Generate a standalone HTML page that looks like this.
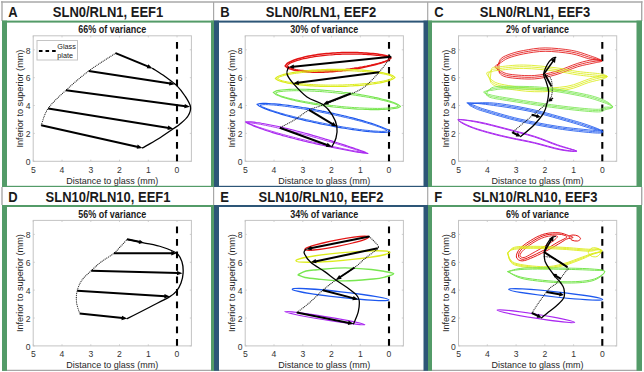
<!DOCTYPE html>
<html><head><meta charset="utf-8"><style>
html,body{margin:0;padding:0;background:#fff;width:644px;height:372px;overflow:hidden}
svg{display:block}
text{font-family:"Liberation Sans",sans-serif;fill:#1a1a1a}
.hl{font-size:13px;font-weight:bold}
.ht{font-size:13px;font-weight:bold;text-anchor:middle}
.st{font-size:9px;font-weight:bold;text-anchor:middle}
.tk{font-size:8.6px;text-anchor:middle;fill:#333}
.al{font-size:9px;text-anchor:middle;fill:#262626}
.lg{font-size:7.25px;fill:#222}
</style></head><body>
<svg width="644" height="372" viewBox="0 0 644 372">
<rect width="644" height="372" fill="#fff"/>
<line x1="1" y1="2" x2="642.5" y2="2" stroke="#a8a8a8" stroke-width="1.4"/>
<line x1="2" y1="1.3" x2="2" y2="21" stroke="#a8a8a8" stroke-width="1.4"/>
<line x1="641.7" y1="1.3" x2="641.7" y2="21" stroke="#a8a8a8" stroke-width="1.4"/>
<line x1="2" y1="187" x2="2" y2="205" stroke="#a8a8a8" stroke-width="1.4"/>
<line x1="641.7" y1="187" x2="641.7" y2="205" stroke="#a8a8a8" stroke-width="1.4"/>
<line x1="2" y1="370.4" x2="642" y2="370.4" stroke="#a8a8a8" stroke-width="1.2"/>
<line x1="213.6" y1="2" x2="213.6" y2="21" stroke="#a8a8a8" stroke-width="1.2"/>
<line x1="213.6" y1="187" x2="213.6" y2="205" stroke="#a8a8a8" stroke-width="1.2"/>
<line x1="427.7" y1="2" x2="427.7" y2="21" stroke="#a8a8a8" stroke-width="1.2"/>
<line x1="427.7" y1="187" x2="427.7" y2="205" stroke="#a8a8a8" stroke-width="1.2"/>
<rect x="2" y="20.6" width="212" height="2" fill="#539b68"/>
<rect x="2" y="185.8" width="212" height="1.2" fill="#539b68"/>
<rect x="2" y="20.6" width="5" height="166.4" fill="#539b68"/>
<rect x="211" y="20.6" width="3" height="166.4" fill="#539b68"/>
<rect x="214" y="20.6" width="214" height="2" fill="#2d5677"/>
<rect x="214" y="185.8" width="214" height="1.2" fill="#2d5677"/>
<rect x="214" y="20.6" width="5" height="166.4" fill="#2d5677"/>
<rect x="423.5" y="20.6" width="4.5" height="166.4" fill="#2d5677"/>
<rect x="428" y="20.6" width="214" height="2" fill="#539b68"/>
<rect x="428" y="185.8" width="214" height="1.2" fill="#539b68"/>
<rect x="428" y="20.6" width="4" height="166.4" fill="#539b68"/>
<rect x="636.5" y="20.6" width="5.5" height="166.4" fill="#539b68"/>
<rect x="2" y="205" width="212" height="2" fill="#539b68"/>
<rect x="2" y="205" width="5" height="165.8" fill="#539b68"/>
<rect x="211" y="205" width="3" height="165.8" fill="#539b68"/>
<rect x="214" y="205" width="214" height="2" fill="#2d5677"/>
<rect x="214" y="205" width="5" height="165.8" fill="#2d5677"/>
<rect x="423.5" y="205" width="4.5" height="165.8" fill="#2d5677"/>
<rect x="428" y="205" width="214" height="2" fill="#539b68"/>
<rect x="428" y="205" width="4" height="165.8" fill="#539b68"/>
<rect x="636.5" y="205" width="5.5" height="165.8" fill="#539b68"/>
<text transform="translate(8.3,16.6) scale(1,1.1)" class="hl">A</text>
<text transform="translate(108.0,16.6) scale(1,1.1)" class="ht">SLN0/RLN1, EEF1</text>
<text transform="translate(220.3,16.6) scale(1,1.1)" class="hl">B</text>
<text transform="translate(321.0,16.6) scale(1,1.1)" class="ht">SLN0/RLN1, EEF2</text>
<text transform="translate(434.3,16.6) scale(1,1.1)" class="hl">C</text>
<text transform="translate(535.0,16.6) scale(1,1.1)" class="ht">SLN0/RLN1, EEF3</text>
<text transform="translate(8.3,201.9) scale(1,1.1)" class="hl">D</text>
<text transform="translate(108.0,201.9) scale(1,1.1)" class="ht">SLN10/RLN10, EEF1</text>
<text transform="translate(220.3,201.9) scale(1,1.1)" class="hl">E</text>
<text transform="translate(321.0,201.9) scale(1,1.1)" class="ht">SLN10/RLN10, EEF2</text>
<text transform="translate(434.3,201.9) scale(1,1.1)" class="hl">F</text>
<text transform="translate(535.0,201.9) scale(1,1.1)" class="ht">SLN10/RLN10, EEF3</text>
<text transform="translate(112.3,33.2) scale(1,1.12)" class="st">66% of variance</text>
<rect x="33.2" y="35.8" width="158.2" height="125.50000000000001" fill="none" stroke="#c4c4c4" stroke-width="1"/>
<line x1="177.0" y1="161.3" x2="177.0" y2="159.70000000000002" stroke="#c4c4c4" stroke-width=".8"/>
<line x1="177.0" y1="35.8" x2="177.0" y2="37.4" stroke="#c4c4c4" stroke-width=".8"/>
<text x="177.0" y="172.5" class="tk">0</text>
<line x1="148.3" y1="161.3" x2="148.3" y2="159.70000000000002" stroke="#c4c4c4" stroke-width=".8"/>
<line x1="148.3" y1="35.8" x2="148.3" y2="37.4" stroke="#c4c4c4" stroke-width=".8"/>
<text x="148.3" y="172.5" class="tk">1</text>
<line x1="119.5" y1="161.3" x2="119.5" y2="159.70000000000002" stroke="#c4c4c4" stroke-width=".8"/>
<line x1="119.5" y1="35.8" x2="119.5" y2="37.4" stroke="#c4c4c4" stroke-width=".8"/>
<text x="119.5" y="172.5" class="tk">2</text>
<line x1="90.8" y1="161.3" x2="90.8" y2="159.70000000000002" stroke="#c4c4c4" stroke-width=".8"/>
<line x1="90.8" y1="35.8" x2="90.8" y2="37.4" stroke="#c4c4c4" stroke-width=".8"/>
<text x="90.8" y="172.5" class="tk">3</text>
<line x1="62.0" y1="161.3" x2="62.0" y2="159.70000000000002" stroke="#c4c4c4" stroke-width=".8"/>
<line x1="62.0" y1="35.8" x2="62.0" y2="37.4" stroke="#c4c4c4" stroke-width=".8"/>
<text x="62.0" y="172.5" class="tk">4</text>
<line x1="33.3" y1="161.3" x2="33.3" y2="159.70000000000002" stroke="#c4c4c4" stroke-width=".8"/>
<line x1="33.3" y1="35.8" x2="33.3" y2="37.4" stroke="#c4c4c4" stroke-width=".8"/>
<text x="33.3" y="172.5" class="tk">5</text>
<line x1="33.2" y1="161.3" x2="34.800000000000004" y2="161.3" stroke="#c4c4c4" stroke-width=".8"/>
<line x1="191.4" y1="161.3" x2="189.8" y2="161.3" stroke="#c4c4c4" stroke-width=".8"/>
<text x="28.2" y="165.0" class="tk">0</text>
<line x1="33.2" y1="133.4" x2="34.800000000000004" y2="133.4" stroke="#c4c4c4" stroke-width=".8"/>
<line x1="191.4" y1="133.4" x2="189.8" y2="133.4" stroke="#c4c4c4" stroke-width=".8"/>
<text x="28.2" y="137.1" class="tk">2</text>
<line x1="33.2" y1="105.5" x2="34.800000000000004" y2="105.5" stroke="#c4c4c4" stroke-width=".8"/>
<line x1="191.4" y1="105.5" x2="189.8" y2="105.5" stroke="#c4c4c4" stroke-width=".8"/>
<text x="28.2" y="109.2" class="tk">4</text>
<line x1="33.2" y1="77.7" x2="34.800000000000004" y2="77.7" stroke="#c4c4c4" stroke-width=".8"/>
<line x1="191.4" y1="77.7" x2="189.8" y2="77.7" stroke="#c4c4c4" stroke-width=".8"/>
<text x="28.2" y="81.4" class="tk">6</text>
<line x1="33.2" y1="49.8" x2="34.800000000000004" y2="49.8" stroke="#c4c4c4" stroke-width=".8"/>
<line x1="191.4" y1="49.8" x2="189.8" y2="49.8" stroke="#c4c4c4" stroke-width=".8"/>
<text x="28.2" y="53.5" class="tk">8</text>
<text transform="translate(112.3,183.6) scale(1,1.09)" class="al">Distance to glass (mm)</text>
<text transform="translate(23.2,98.55000000000001) rotate(-90)" x="0" y="0" class="al" style="font-size:9.15px">Inferior to superior (mm)</text>
<line x1="177.0" y1="41.9" x2="177.0" y2="161.3" stroke="#000" stroke-width="2.1" stroke-dasharray="6.8 5.7"/>
<text transform="translate(324.3,33.2) scale(1,1.12)" class="st">30% of variance</text>
<rect x="245.2" y="35.8" width="158.2" height="125.50000000000001" fill="none" stroke="#c4c4c4" stroke-width="1"/>
<line x1="389.0" y1="161.3" x2="389.0" y2="159.70000000000002" stroke="#c4c4c4" stroke-width=".8"/>
<line x1="389.0" y1="35.8" x2="389.0" y2="37.4" stroke="#c4c4c4" stroke-width=".8"/>
<text x="389.0" y="172.5" class="tk">0</text>
<line x1="360.3" y1="161.3" x2="360.3" y2="159.70000000000002" stroke="#c4c4c4" stroke-width=".8"/>
<line x1="360.3" y1="35.8" x2="360.3" y2="37.4" stroke="#c4c4c4" stroke-width=".8"/>
<text x="360.3" y="172.5" class="tk">1</text>
<line x1="331.5" y1="161.3" x2="331.5" y2="159.70000000000002" stroke="#c4c4c4" stroke-width=".8"/>
<line x1="331.5" y1="35.8" x2="331.5" y2="37.4" stroke="#c4c4c4" stroke-width=".8"/>
<text x="331.5" y="172.5" class="tk">2</text>
<line x1="302.8" y1="161.3" x2="302.8" y2="159.70000000000002" stroke="#c4c4c4" stroke-width=".8"/>
<line x1="302.8" y1="35.8" x2="302.8" y2="37.4" stroke="#c4c4c4" stroke-width=".8"/>
<text x="302.8" y="172.5" class="tk">3</text>
<line x1="274.0" y1="161.3" x2="274.0" y2="159.70000000000002" stroke="#c4c4c4" stroke-width=".8"/>
<line x1="274.0" y1="35.8" x2="274.0" y2="37.4" stroke="#c4c4c4" stroke-width=".8"/>
<text x="274.0" y="172.5" class="tk">4</text>
<line x1="245.3" y1="161.3" x2="245.3" y2="159.70000000000002" stroke="#c4c4c4" stroke-width=".8"/>
<line x1="245.3" y1="35.8" x2="245.3" y2="37.4" stroke="#c4c4c4" stroke-width=".8"/>
<text x="245.3" y="172.5" class="tk">5</text>
<line x1="245.2" y1="161.3" x2="246.79999999999998" y2="161.3" stroke="#c4c4c4" stroke-width=".8"/>
<line x1="403.4" y1="161.3" x2="401.79999999999995" y2="161.3" stroke="#c4c4c4" stroke-width=".8"/>
<text x="240.2" y="165.0" class="tk">0</text>
<line x1="245.2" y1="133.4" x2="246.79999999999998" y2="133.4" stroke="#c4c4c4" stroke-width=".8"/>
<line x1="403.4" y1="133.4" x2="401.79999999999995" y2="133.4" stroke="#c4c4c4" stroke-width=".8"/>
<text x="240.2" y="137.1" class="tk">2</text>
<line x1="245.2" y1="105.5" x2="246.79999999999998" y2="105.5" stroke="#c4c4c4" stroke-width=".8"/>
<line x1="403.4" y1="105.5" x2="401.79999999999995" y2="105.5" stroke="#c4c4c4" stroke-width=".8"/>
<text x="240.2" y="109.2" class="tk">4</text>
<line x1="245.2" y1="77.7" x2="246.79999999999998" y2="77.7" stroke="#c4c4c4" stroke-width=".8"/>
<line x1="403.4" y1="77.7" x2="401.79999999999995" y2="77.7" stroke="#c4c4c4" stroke-width=".8"/>
<text x="240.2" y="81.4" class="tk">6</text>
<line x1="245.2" y1="49.8" x2="246.79999999999998" y2="49.8" stroke="#c4c4c4" stroke-width=".8"/>
<line x1="403.4" y1="49.8" x2="401.79999999999995" y2="49.8" stroke="#c4c4c4" stroke-width=".8"/>
<text x="240.2" y="53.5" class="tk">8</text>
<text transform="translate(324.3,183.6) scale(1,1.09)" class="al">Distance to glass (mm)</text>
<text transform="translate(235.2,98.55000000000001) rotate(-90)" x="0" y="0" class="al" style="font-size:9.15px">Inferior to superior (mm)</text>
<line x1="389.0" y1="41.9" x2="389.0" y2="161.3" stroke="#000" stroke-width="2.1" stroke-dasharray="6.8 5.7"/>
<text transform="translate(537.6,33.2) scale(1,1.12)" class="st">2% of variance</text>
<rect x="458.5" y="35.8" width="158.20000000000005" height="125.50000000000001" fill="none" stroke="#c4c4c4" stroke-width="1"/>
<line x1="602.3" y1="161.3" x2="602.3" y2="159.70000000000002" stroke="#c4c4c4" stroke-width=".8"/>
<line x1="602.3" y1="35.8" x2="602.3" y2="37.4" stroke="#c4c4c4" stroke-width=".8"/>
<text x="602.3" y="172.5" class="tk">0</text>
<line x1="573.6" y1="161.3" x2="573.6" y2="159.70000000000002" stroke="#c4c4c4" stroke-width=".8"/>
<line x1="573.6" y1="35.8" x2="573.6" y2="37.4" stroke="#c4c4c4" stroke-width=".8"/>
<text x="573.6" y="172.5" class="tk">1</text>
<line x1="544.8" y1="161.3" x2="544.8" y2="159.70000000000002" stroke="#c4c4c4" stroke-width=".8"/>
<line x1="544.8" y1="35.8" x2="544.8" y2="37.4" stroke="#c4c4c4" stroke-width=".8"/>
<text x="544.8" y="172.5" class="tk">2</text>
<line x1="516.1" y1="161.3" x2="516.1" y2="159.70000000000002" stroke="#c4c4c4" stroke-width=".8"/>
<line x1="516.1" y1="35.8" x2="516.1" y2="37.4" stroke="#c4c4c4" stroke-width=".8"/>
<text x="516.1" y="172.5" class="tk">3</text>
<line x1="487.3" y1="161.3" x2="487.3" y2="159.70000000000002" stroke="#c4c4c4" stroke-width=".8"/>
<line x1="487.3" y1="35.8" x2="487.3" y2="37.4" stroke="#c4c4c4" stroke-width=".8"/>
<text x="487.3" y="172.5" class="tk">4</text>
<line x1="458.6" y1="161.3" x2="458.6" y2="159.70000000000002" stroke="#c4c4c4" stroke-width=".8"/>
<line x1="458.6" y1="35.8" x2="458.6" y2="37.4" stroke="#c4c4c4" stroke-width=".8"/>
<text x="458.6" y="172.5" class="tk">5</text>
<line x1="458.5" y1="161.3" x2="460.1" y2="161.3" stroke="#c4c4c4" stroke-width=".8"/>
<line x1="616.7" y1="161.3" x2="615.1" y2="161.3" stroke="#c4c4c4" stroke-width=".8"/>
<text x="453.5" y="165.0" class="tk">0</text>
<line x1="458.5" y1="133.4" x2="460.1" y2="133.4" stroke="#c4c4c4" stroke-width=".8"/>
<line x1="616.7" y1="133.4" x2="615.1" y2="133.4" stroke="#c4c4c4" stroke-width=".8"/>
<text x="453.5" y="137.1" class="tk">2</text>
<line x1="458.5" y1="105.5" x2="460.1" y2="105.5" stroke="#c4c4c4" stroke-width=".8"/>
<line x1="616.7" y1="105.5" x2="615.1" y2="105.5" stroke="#c4c4c4" stroke-width=".8"/>
<text x="453.5" y="109.2" class="tk">4</text>
<line x1="458.5" y1="77.7" x2="460.1" y2="77.7" stroke="#c4c4c4" stroke-width=".8"/>
<line x1="616.7" y1="77.7" x2="615.1" y2="77.7" stroke="#c4c4c4" stroke-width=".8"/>
<text x="453.5" y="81.4" class="tk">6</text>
<line x1="458.5" y1="49.8" x2="460.1" y2="49.8" stroke="#c4c4c4" stroke-width=".8"/>
<line x1="616.7" y1="49.8" x2="615.1" y2="49.8" stroke="#c4c4c4" stroke-width=".8"/>
<text x="453.5" y="53.5" class="tk">8</text>
<text transform="translate(537.6,183.6) scale(1,1.09)" class="al">Distance to glass (mm)</text>
<text transform="translate(448.5,98.55000000000001) rotate(-90)" x="0" y="0" class="al" style="font-size:9.15px">Inferior to superior (mm)</text>
<line x1="602.3" y1="41.9" x2="602.3" y2="161.3" stroke="#000" stroke-width="2.1" stroke-dasharray="6.8 5.7"/>
<text transform="translate(112.3,217.8) scale(1,1.12)" class="st">56% of variance</text>
<rect x="33.2" y="220.39999999999998" width="158.2" height="125.5" fill="none" stroke="#c4c4c4" stroke-width="1"/>
<line x1="177.0" y1="345.9" x2="177.0" y2="344.29999999999995" stroke="#c4c4c4" stroke-width=".8"/>
<line x1="177.0" y1="220.39999999999998" x2="177.0" y2="221.99999999999997" stroke="#c4c4c4" stroke-width=".8"/>
<text x="177.0" y="357.1" class="tk">0</text>
<line x1="148.3" y1="345.9" x2="148.3" y2="344.29999999999995" stroke="#c4c4c4" stroke-width=".8"/>
<line x1="148.3" y1="220.39999999999998" x2="148.3" y2="221.99999999999997" stroke="#c4c4c4" stroke-width=".8"/>
<text x="148.3" y="357.1" class="tk">1</text>
<line x1="119.5" y1="345.9" x2="119.5" y2="344.29999999999995" stroke="#c4c4c4" stroke-width=".8"/>
<line x1="119.5" y1="220.39999999999998" x2="119.5" y2="221.99999999999997" stroke="#c4c4c4" stroke-width=".8"/>
<text x="119.5" y="357.1" class="tk">2</text>
<line x1="90.8" y1="345.9" x2="90.8" y2="344.29999999999995" stroke="#c4c4c4" stroke-width=".8"/>
<line x1="90.8" y1="220.39999999999998" x2="90.8" y2="221.99999999999997" stroke="#c4c4c4" stroke-width=".8"/>
<text x="90.8" y="357.1" class="tk">3</text>
<line x1="62.0" y1="345.9" x2="62.0" y2="344.29999999999995" stroke="#c4c4c4" stroke-width=".8"/>
<line x1="62.0" y1="220.39999999999998" x2="62.0" y2="221.99999999999997" stroke="#c4c4c4" stroke-width=".8"/>
<text x="62.0" y="357.1" class="tk">4</text>
<line x1="33.3" y1="345.9" x2="33.3" y2="344.29999999999995" stroke="#c4c4c4" stroke-width=".8"/>
<line x1="33.3" y1="220.39999999999998" x2="33.3" y2="221.99999999999997" stroke="#c4c4c4" stroke-width=".8"/>
<text x="33.3" y="357.1" class="tk">5</text>
<line x1="33.2" y1="345.9" x2="34.800000000000004" y2="345.9" stroke="#c4c4c4" stroke-width=".8"/>
<line x1="191.4" y1="345.9" x2="189.8" y2="345.9" stroke="#c4c4c4" stroke-width=".8"/>
<text x="28.2" y="349.6" class="tk">0</text>
<line x1="33.2" y1="318.0" x2="34.800000000000004" y2="318.0" stroke="#c4c4c4" stroke-width=".8"/>
<line x1="191.4" y1="318.0" x2="189.8" y2="318.0" stroke="#c4c4c4" stroke-width=".8"/>
<text x="28.2" y="321.7" class="tk">2</text>
<line x1="33.2" y1="290.1" x2="34.800000000000004" y2="290.1" stroke="#c4c4c4" stroke-width=".8"/>
<line x1="191.4" y1="290.1" x2="189.8" y2="290.1" stroke="#c4c4c4" stroke-width=".8"/>
<text x="28.2" y="293.8" class="tk">4</text>
<line x1="33.2" y1="262.3" x2="34.800000000000004" y2="262.3" stroke="#c4c4c4" stroke-width=".8"/>
<line x1="191.4" y1="262.3" x2="189.8" y2="262.3" stroke="#c4c4c4" stroke-width=".8"/>
<text x="28.2" y="266.0" class="tk">6</text>
<line x1="33.2" y1="234.4" x2="34.800000000000004" y2="234.4" stroke="#c4c4c4" stroke-width=".8"/>
<line x1="191.4" y1="234.4" x2="189.8" y2="234.4" stroke="#c4c4c4" stroke-width=".8"/>
<text x="28.2" y="238.1" class="tk">8</text>
<text transform="translate(112.3,368.2) scale(1,1.09)" class="al">Distance to glass (mm)</text>
<text transform="translate(23.2,283.15) rotate(-90)" x="0" y="0" class="al" style="font-size:9.15px">Inferior to superior (mm)</text>
<line x1="177.0" y1="226.5" x2="177.0" y2="345.9" stroke="#000" stroke-width="2.1" stroke-dasharray="6.8 5.7"/>
<text transform="translate(324.3,217.8) scale(1,1.12)" class="st">34% of variance</text>
<rect x="245.2" y="220.39999999999998" width="158.2" height="125.5" fill="none" stroke="#c4c4c4" stroke-width="1"/>
<line x1="389.0" y1="345.9" x2="389.0" y2="344.29999999999995" stroke="#c4c4c4" stroke-width=".8"/>
<line x1="389.0" y1="220.39999999999998" x2="389.0" y2="221.99999999999997" stroke="#c4c4c4" stroke-width=".8"/>
<text x="389.0" y="357.1" class="tk">0</text>
<line x1="360.3" y1="345.9" x2="360.3" y2="344.29999999999995" stroke="#c4c4c4" stroke-width=".8"/>
<line x1="360.3" y1="220.39999999999998" x2="360.3" y2="221.99999999999997" stroke="#c4c4c4" stroke-width=".8"/>
<text x="360.3" y="357.1" class="tk">1</text>
<line x1="331.5" y1="345.9" x2="331.5" y2="344.29999999999995" stroke="#c4c4c4" stroke-width=".8"/>
<line x1="331.5" y1="220.39999999999998" x2="331.5" y2="221.99999999999997" stroke="#c4c4c4" stroke-width=".8"/>
<text x="331.5" y="357.1" class="tk">2</text>
<line x1="302.8" y1="345.9" x2="302.8" y2="344.29999999999995" stroke="#c4c4c4" stroke-width=".8"/>
<line x1="302.8" y1="220.39999999999998" x2="302.8" y2="221.99999999999997" stroke="#c4c4c4" stroke-width=".8"/>
<text x="302.8" y="357.1" class="tk">3</text>
<line x1="274.0" y1="345.9" x2="274.0" y2="344.29999999999995" stroke="#c4c4c4" stroke-width=".8"/>
<line x1="274.0" y1="220.39999999999998" x2="274.0" y2="221.99999999999997" stroke="#c4c4c4" stroke-width=".8"/>
<text x="274.0" y="357.1" class="tk">4</text>
<line x1="245.3" y1="345.9" x2="245.3" y2="344.29999999999995" stroke="#c4c4c4" stroke-width=".8"/>
<line x1="245.3" y1="220.39999999999998" x2="245.3" y2="221.99999999999997" stroke="#c4c4c4" stroke-width=".8"/>
<text x="245.3" y="357.1" class="tk">5</text>
<line x1="245.2" y1="345.9" x2="246.79999999999998" y2="345.9" stroke="#c4c4c4" stroke-width=".8"/>
<line x1="403.4" y1="345.9" x2="401.79999999999995" y2="345.9" stroke="#c4c4c4" stroke-width=".8"/>
<text x="240.2" y="349.6" class="tk">0</text>
<line x1="245.2" y1="318.0" x2="246.79999999999998" y2="318.0" stroke="#c4c4c4" stroke-width=".8"/>
<line x1="403.4" y1="318.0" x2="401.79999999999995" y2="318.0" stroke="#c4c4c4" stroke-width=".8"/>
<text x="240.2" y="321.7" class="tk">2</text>
<line x1="245.2" y1="290.1" x2="246.79999999999998" y2="290.1" stroke="#c4c4c4" stroke-width=".8"/>
<line x1="403.4" y1="290.1" x2="401.79999999999995" y2="290.1" stroke="#c4c4c4" stroke-width=".8"/>
<text x="240.2" y="293.8" class="tk">4</text>
<line x1="245.2" y1="262.3" x2="246.79999999999998" y2="262.3" stroke="#c4c4c4" stroke-width=".8"/>
<line x1="403.4" y1="262.3" x2="401.79999999999995" y2="262.3" stroke="#c4c4c4" stroke-width=".8"/>
<text x="240.2" y="266.0" class="tk">6</text>
<line x1="245.2" y1="234.4" x2="246.79999999999998" y2="234.4" stroke="#c4c4c4" stroke-width=".8"/>
<line x1="403.4" y1="234.4" x2="401.79999999999995" y2="234.4" stroke="#c4c4c4" stroke-width=".8"/>
<text x="240.2" y="238.1" class="tk">8</text>
<text transform="translate(324.3,368.2) scale(1,1.09)" class="al">Distance to glass (mm)</text>
<text transform="translate(235.2,283.15) rotate(-90)" x="0" y="0" class="al" style="font-size:9.15px">Inferior to superior (mm)</text>
<line x1="389.0" y1="226.5" x2="389.0" y2="345.9" stroke="#000" stroke-width="2.1" stroke-dasharray="6.8 5.7"/>
<text transform="translate(537.6,217.8) scale(1,1.12)" class="st">6% of variance</text>
<rect x="458.5" y="220.39999999999998" width="158.20000000000005" height="125.5" fill="none" stroke="#c4c4c4" stroke-width="1"/>
<line x1="602.3" y1="345.9" x2="602.3" y2="344.29999999999995" stroke="#c4c4c4" stroke-width=".8"/>
<line x1="602.3" y1="220.39999999999998" x2="602.3" y2="221.99999999999997" stroke="#c4c4c4" stroke-width=".8"/>
<text x="602.3" y="357.1" class="tk">0</text>
<line x1="573.6" y1="345.9" x2="573.6" y2="344.29999999999995" stroke="#c4c4c4" stroke-width=".8"/>
<line x1="573.6" y1="220.39999999999998" x2="573.6" y2="221.99999999999997" stroke="#c4c4c4" stroke-width=".8"/>
<text x="573.6" y="357.1" class="tk">1</text>
<line x1="544.8" y1="345.9" x2="544.8" y2="344.29999999999995" stroke="#c4c4c4" stroke-width=".8"/>
<line x1="544.8" y1="220.39999999999998" x2="544.8" y2="221.99999999999997" stroke="#c4c4c4" stroke-width=".8"/>
<text x="544.8" y="357.1" class="tk">2</text>
<line x1="516.1" y1="345.9" x2="516.1" y2="344.29999999999995" stroke="#c4c4c4" stroke-width=".8"/>
<line x1="516.1" y1="220.39999999999998" x2="516.1" y2="221.99999999999997" stroke="#c4c4c4" stroke-width=".8"/>
<text x="516.1" y="357.1" class="tk">3</text>
<line x1="487.3" y1="345.9" x2="487.3" y2="344.29999999999995" stroke="#c4c4c4" stroke-width=".8"/>
<line x1="487.3" y1="220.39999999999998" x2="487.3" y2="221.99999999999997" stroke="#c4c4c4" stroke-width=".8"/>
<text x="487.3" y="357.1" class="tk">4</text>
<line x1="458.6" y1="345.9" x2="458.6" y2="344.29999999999995" stroke="#c4c4c4" stroke-width=".8"/>
<line x1="458.6" y1="220.39999999999998" x2="458.6" y2="221.99999999999997" stroke="#c4c4c4" stroke-width=".8"/>
<text x="458.6" y="357.1" class="tk">5</text>
<line x1="458.5" y1="345.9" x2="460.1" y2="345.9" stroke="#c4c4c4" stroke-width=".8"/>
<line x1="616.7" y1="345.9" x2="615.1" y2="345.9" stroke="#c4c4c4" stroke-width=".8"/>
<text x="453.5" y="349.6" class="tk">0</text>
<line x1="458.5" y1="318.0" x2="460.1" y2="318.0" stroke="#c4c4c4" stroke-width=".8"/>
<line x1="616.7" y1="318.0" x2="615.1" y2="318.0" stroke="#c4c4c4" stroke-width=".8"/>
<text x="453.5" y="321.7" class="tk">2</text>
<line x1="458.5" y1="290.1" x2="460.1" y2="290.1" stroke="#c4c4c4" stroke-width=".8"/>
<line x1="616.7" y1="290.1" x2="615.1" y2="290.1" stroke="#c4c4c4" stroke-width=".8"/>
<text x="453.5" y="293.8" class="tk">4</text>
<line x1="458.5" y1="262.3" x2="460.1" y2="262.3" stroke="#c4c4c4" stroke-width=".8"/>
<line x1="616.7" y1="262.3" x2="615.1" y2="262.3" stroke="#c4c4c4" stroke-width=".8"/>
<text x="453.5" y="266.0" class="tk">6</text>
<line x1="458.5" y1="234.4" x2="460.1" y2="234.4" stroke="#c4c4c4" stroke-width=".8"/>
<line x1="616.7" y1="234.4" x2="615.1" y2="234.4" stroke="#c4c4c4" stroke-width=".8"/>
<text x="453.5" y="238.1" class="tk">8</text>
<text transform="translate(537.6,368.2) scale(1,1.09)" class="al">Distance to glass (mm)</text>
<text transform="translate(448.5,283.15) rotate(-90)" x="0" y="0" class="al" style="font-size:9.15px">Inferior to superior (mm)</text>
<line x1="602.3" y1="226.5" x2="602.3" y2="345.9" stroke="#000" stroke-width="2.1" stroke-dasharray="6.8 5.7"/>
<rect x="37" y="40.5" width="40.5" height="19.5" fill="#fff" stroke="#c4c4c4" stroke-width="1"/>
<line x1="38.9" y1="50.9" x2="55.8" y2="50.9" stroke="#000" stroke-width="2" stroke-dasharray="3.6 3"/>
<text transform="translate(57.3,48.6) scale(1,1.1)" class="lg">Glass</text>
<text transform="translate(57.3,58.2) scale(1,1.1)" class="lg">plate</text>
<path d="M115.6,53.2 C111.1,56.2 97.0,64.8 88.7,71.0 C80.4,77.2 72.8,84.0 66.0,90.2 C59.2,96.4 52.3,102.6 48.2,108.4 C44.1,114.2 42.4,122.4 41.2,125.2" fill="none" stroke="#222" stroke-width="1.15" stroke-dasharray="0.05 1.8" stroke-linecap="round"/>
<path d="M152.6,68.4 C154.7,69.8 161.0,73.6 165.0,76.5 C169.0,79.4 173.5,82.3 176.8,85.6 C180.1,88.8 182.7,92.5 185.0,96.0 C187.3,99.5 190.0,103.5 190.5,106.8 C191.0,110.1 189.8,113.1 188.0,116.0 C186.2,118.9 182.4,121.9 180.0,124.0 C177.6,126.1 177.0,126.2 173.3,128.7 C169.6,131.2 163.1,135.8 158.0,139.0 C152.9,142.2 145.1,146.4 142.5,147.9" fill="none" stroke="#000" stroke-width="1.3" stroke-linecap="round"/>
<line x1="115.6" y1="53.2" x2="148.4" y2="66.7" stroke="#000" stroke-width="2.0"/>
<path d="M152.6,68.4 L146.7,68.3 L148.3,64.3 Z" fill="#000"/>
<line x1="88.7" y1="71.0" x2="170.4" y2="83.6" stroke="#000" stroke-width="2.0"/>
<path d="M174.8,84.3 L169.0,85.6 L169.7,81.3 Z" fill="#000"/>
<line x1="66.0" y1="90.2" x2="185.5" y2="106.2" stroke="#000" stroke-width="2.0"/>
<path d="M190.0,106.8 L184.3,108.3 L184.8,103.9 Z" fill="#000"/>
<line x1="48.2" y1="108.4" x2="168.9" y2="128.0" stroke="#000" stroke-width="2.0"/>
<path d="M173.3,128.7 L167.5,130.0 L168.2,125.6 Z" fill="#000"/>
<line x1="41.2" y1="125.2" x2="138.1" y2="146.9" stroke="#000" stroke-width="2.0"/>
<path d="M142.5,147.9 L136.7,148.8 L137.6,144.6 Z" fill="#000"/>
<path d="M285.1,65.9 L287.5,68.0 L289.8,68.9 L292.0,69.6 L294.3,70.2 L296.6,70.6 L298.8,71.0 L301.0,71.3 L303.3,71.6 L305.5,71.8 L307.8,72.0 L310.0,72.1 L312.2,72.2 L314.4,72.2 L316.7,72.3 L318.9,72.3 L321.1,72.2 L323.3,72.2 L325.5,72.1 L327.7,72.0 L330.0,71.8 L332.2,71.7 L334.4,71.5 L336.6,71.3 L338.8,71.1 L341.0,70.9 L343.2,70.6 L345.4,70.4 L347.6,70.1 L349.8,69.8 L352.0,69.4 L354.2,69.1 L356.4,68.7 L358.6,68.4 L360.8,67.9 L362.9,67.5 L365.1,67.1 L367.3,66.6 L369.5,66.1 L371.7,65.6 L373.9,65.1 L376.0,64.5 L378.2,63.9 L380.4,63.2 L382.6,62.5 L384.7,61.7 L386.9,60.9 L389.0,59.8 L391.1,58.0 L388.8,56.5 L386.5,55.8 L384.2,55.3 L382.0,54.8 L379.7,54.4 L377.5,54.1 L375.2,53.8 L373.0,53.6 L370.8,53.4 L368.5,53.2 L366.3,53.0 L364.1,52.9 L361.8,52.8 L359.6,52.7 L357.4,52.6 L355.2,52.5 L352.9,52.5 L350.7,52.5 L348.5,52.5 L346.3,52.5 L344.1,52.5 L341.8,52.6 L339.6,52.7 L337.4,52.8 L335.2,52.9 L333.0,53.0 L330.8,53.2 L328.6,53.4 L326.4,53.6 L324.2,53.8 L322.0,54.0 L319.8,54.3 L317.6,54.6 L315.4,54.9 L313.2,55.3 L311.0,55.7 L308.8,56.1 L306.6,56.5 L304.4,57.0 L302.2,57.6 L300.1,58.2 L297.9,58.8 L295.7,59.5 L293.6,60.3 L291.4,61.2 L289.3,62.2 L287.1,63.5Z" fill="none" stroke="#e31414" stroke-width="1.5" stroke-linejoin="round"/>
<path d="M287.0,65.9 L289.3,67.6 L291.5,68.4 L293.7,69.0 L295.9,69.5 L298.1,69.9 L300.2,70.2 L302.4,70.4 L304.6,70.6 L306.8,70.8 L308.9,70.9 L311.1,71.0 L313.3,71.0 L315.4,71.1 L317.6,71.1 L319.7,71.1 L321.9,71.0 L324.0,71.0 L326.2,70.9 L328.3,70.8 L330.5,70.7 L332.6,70.5 L334.8,70.4 L336.9,70.2 L339.1,70.0 L341.2,69.8 L343.3,69.5 L345.5,69.3 L347.6,69.0 L349.8,68.8 L351.9,68.5 L354.0,68.2 L356.2,67.8 L358.3,67.5 L360.4,67.1 L362.6,66.8 L364.7,66.4 L366.8,66.0 L368.9,65.5 L371.1,65.1 L373.2,64.6 L375.3,64.1 L377.4,63.6 L379.5,63.0 L381.7,62.4 L383.8,61.7 L385.9,61.0 L388.0,60.1 L390.0,58.5 L387.8,57.2 L385.6,56.7 L383.4,56.2 L381.2,55.9 L379.0,55.5 L376.8,55.3 L374.7,55.1 L372.5,54.9 L370.3,54.7 L368.1,54.6 L366.0,54.4 L363.8,54.3 L361.7,54.2 L359.5,54.2 L357.3,54.1 L355.2,54.1 L353.0,54.1 L350.9,54.1 L348.7,54.1 L346.5,54.1 L344.4,54.2 L342.2,54.2 L340.1,54.3 L337.9,54.4 L335.8,54.5 L333.6,54.7 L331.5,54.8 L329.4,55.0 L327.2,55.2 L325.1,55.4 L322.9,55.6 L320.8,55.8 L318.7,56.1 L316.5,56.4 L314.4,56.7 L312.2,57.1 L310.1,57.4 L308.0,57.8 L305.9,58.3 L303.7,58.7 L301.6,59.2 L299.5,59.8 L297.4,60.4 L295.3,61.1 L293.2,61.9 L291.1,62.8 L289.0,63.9Z" fill="none" stroke="#e31414" stroke-width="1.2" stroke-linejoin="round"/>
<path d="M275.3,78.4 L277.8,80.3 L280.3,81.2 L282.8,81.9 L285.3,82.5 L287.8,83.1 L290.3,83.5 L292.8,83.9 L295.3,84.3 L297.8,84.6 L300.3,84.9 L302.8,85.2 L305.3,85.4 L307.8,85.6 L310.3,85.8 L312.8,85.9 L315.3,86.1 L317.8,86.2 L320.3,86.3 L322.8,86.4 L325.2,86.4 L327.7,86.5 L330.2,86.5 L332.7,86.5 L335.2,86.5 L337.7,86.5 L340.2,86.4 L342.7,86.4 L345.2,86.3 L347.7,86.2 L350.2,86.0 L352.7,85.9 L355.2,85.7 L357.7,85.6 L360.2,85.4 L362.6,85.1 L365.1,84.9 L367.6,84.6 L370.1,84.3 L372.6,84.0 L375.1,83.6 L377.6,83.2 L380.1,82.8 L382.6,82.3 L385.1,81.7 L387.5,81.1 L390.0,80.3 L392.5,79.3 L395.0,77.4 L392.5,75.5 L390.0,74.6 L387.5,73.9 L385.0,73.3 L382.5,72.7 L380.0,72.3 L377.5,71.9 L375.0,71.5 L372.5,71.2 L370.0,70.9 L367.5,70.6 L365.0,70.4 L362.5,70.2 L360.0,70.0 L357.5,69.9 L355.0,69.7 L352.5,69.6 L350.0,69.5 L347.5,69.4 L345.1,69.4 L342.6,69.3 L340.1,69.3 L337.6,69.3 L335.1,69.3 L332.6,69.3 L330.1,69.4 L327.6,69.4 L325.1,69.5 L322.6,69.6 L320.1,69.8 L317.6,69.9 L315.1,70.1 L312.6,70.2 L310.1,70.4 L307.7,70.7 L305.2,70.9 L302.7,71.2 L300.2,71.5 L297.7,71.8 L295.2,72.2 L292.7,72.6 L290.2,73.0 L287.7,73.5 L285.2,74.1 L282.8,74.7 L280.3,75.5 L277.8,76.5Z" fill="none" stroke="#dcec1c" stroke-width="1.2" stroke-linejoin="round"/>
<path d="M277.5,78.4 L279.9,80.0 L282.3,80.8 L284.7,81.4 L287.2,81.9 L289.6,82.3 L292.0,82.7 L294.4,83.0 L296.8,83.3 L299.2,83.6 L301.6,83.8 L304.0,84.0 L306.4,84.2 L308.8,84.4 L311.2,84.5 L313.7,84.7 L316.1,84.8 L318.5,84.9 L320.9,85.0 L323.3,85.0 L325.7,85.1 L328.1,85.1 L330.5,85.1 L332.9,85.1 L335.3,85.1 L337.7,85.1 L340.1,85.0 L342.5,85.0 L344.9,84.9 L347.3,84.8 L349.7,84.7 L352.2,84.6 L354.6,84.4 L357.0,84.3 L359.4,84.1 L361.8,83.9 L364.2,83.7 L366.6,83.5 L369.0,83.2 L371.4,82.9 L373.8,82.6 L376.2,82.3 L378.6,81.9 L381.0,81.5 L383.4,81.0 L385.8,80.5 L388.2,79.8 L390.6,79.0 L393.0,77.4 L390.6,75.8 L388.2,75.0 L385.8,74.4 L383.3,73.9 L380.9,73.5 L378.5,73.1 L376.1,72.8 L373.7,72.5 L371.3,72.2 L368.9,72.0 L366.5,71.8 L364.1,71.6 L361.7,71.4 L359.3,71.3 L356.8,71.1 L354.4,71.0 L352.0,70.9 L349.6,70.8 L347.2,70.8 L344.8,70.7 L342.4,70.7 L340.0,70.7 L337.6,70.7 L335.2,70.7 L332.8,70.7 L330.4,70.8 L328.0,70.8 L325.6,70.9 L323.2,71.0 L320.8,71.1 L318.3,71.2 L315.9,71.4 L313.5,71.5 L311.1,71.7 L308.7,71.9 L306.3,72.1 L303.9,72.3 L301.5,72.6 L299.1,72.9 L296.7,73.2 L294.3,73.5 L291.9,73.9 L289.5,74.3 L287.1,74.8 L284.7,75.3 L282.3,76.0 L279.9,76.8Z" fill="none" stroke="#dcec1c" stroke-width="1.0" stroke-linejoin="round"/>
<path d="M273.2,92.4 L275.7,94.4 L278.2,95.6 L280.8,96.6 L283.4,97.4 L286.0,98.2 L288.6,98.9 L291.2,99.6 L293.8,100.3 L296.4,100.9 L299.0,101.4 L301.7,102.0 L304.3,102.5 L306.9,103.0 L309.6,103.5 L312.2,103.9 L314.8,104.4 L317.5,104.8 L320.1,105.2 L322.7,105.6 L325.4,106.0 L328.0,106.3 L330.7,106.6 L333.3,107.0 L336.0,107.3 L338.6,107.5 L341.3,107.8 L344.0,108.1 L346.6,108.3 L349.3,108.5 L351.9,108.7 L354.6,108.9 L357.3,109.1 L359.9,109.2 L362.6,109.3 L365.3,109.4 L367.9,109.5 L370.6,109.6 L373.3,109.6 L376.0,109.6 L378.7,109.6 L381.4,109.5 L384.1,109.4 L386.8,109.3 L389.5,109.1 L392.2,108.8 L394.9,108.4 L397.7,107.9 L400.5,106.4 L398.0,104.4 L395.5,103.2 L392.9,102.2 L390.3,101.4 L387.7,100.6 L385.1,99.9 L382.5,99.2 L379.9,98.5 L377.3,97.9 L374.7,97.4 L372.0,96.8 L369.4,96.3 L366.8,95.8 L364.1,95.3 L361.5,94.9 L358.9,94.4 L356.2,94.0 L353.6,93.6 L351.0,93.2 L348.3,92.8 L345.7,92.5 L343.0,92.2 L340.4,91.8 L337.7,91.5 L335.1,91.3 L332.4,91.0 L329.7,90.7 L327.1,90.5 L324.4,90.3 L321.8,90.1 L319.1,89.9 L316.4,89.7 L313.8,89.6 L311.1,89.5 L308.4,89.4 L305.8,89.3 L303.1,89.2 L300.4,89.2 L297.7,89.2 L295.0,89.2 L292.3,89.3 L289.6,89.4 L286.9,89.5 L284.2,89.7 L281.5,90.0 L278.8,90.4 L276.0,90.9Z" fill="none" stroke="#78e650" stroke-width="1.1" stroke-linejoin="round"/>
<path d="M275.5,93.1 L277.9,94.8 L280.4,95.8 L282.9,96.6 L285.4,97.3 L287.9,98.0 L290.5,98.6 L293.0,99.2 L295.5,99.8 L298.1,100.3 L300.6,100.8 L303.1,101.3 L305.7,101.8 L308.2,102.2 L310.8,102.6 L313.3,103.0 L315.9,103.4 L318.4,103.8 L321.0,104.2 L323.5,104.5 L326.1,104.8 L328.6,105.1 L331.2,105.5 L333.8,105.7 L336.3,106.0 L338.9,106.3 L341.4,106.5 L344.0,106.8 L346.6,107.0 L349.2,107.2 L351.7,107.4 L354.3,107.6 L356.9,107.7 L359.4,107.9 L362.0,108.0 L364.6,108.1 L367.2,108.2 L369.8,108.3 L372.3,108.3 L374.9,108.4 L377.5,108.4 L380.1,108.4 L382.7,108.3 L385.3,108.2 L387.9,108.1 L390.5,107.9 L393.1,107.6 L395.8,107.2 L398.5,106.0 L396.1,104.3 L393.6,103.3 L391.1,102.5 L388.6,101.8 L386.1,101.1 L383.5,100.5 L381.0,99.9 L378.5,99.3 L375.9,98.8 L373.4,98.3 L370.9,97.8 L368.3,97.3 L365.8,96.9 L363.2,96.5 L360.7,96.1 L358.1,95.7 L355.6,95.3 L353.0,94.9 L350.5,94.6 L347.9,94.3 L345.4,94.0 L342.8,93.6 L340.2,93.4 L337.7,93.1 L335.1,92.8 L332.6,92.6 L330.0,92.3 L327.4,92.1 L324.8,91.9 L322.3,91.7 L319.7,91.5 L317.1,91.4 L314.6,91.2 L312.0,91.1 L309.4,91.0 L306.8,90.9 L304.2,90.8 L301.7,90.8 L299.1,90.7 L296.5,90.7 L293.9,90.7 L291.3,90.8 L288.7,90.9 L286.1,91.0 L283.5,91.2 L280.9,91.5 L278.2,91.9Z" fill="none" stroke="#78e650" stroke-width="1.0" stroke-linejoin="round"/>
<path d="M257.0,104.3 L259.5,106.2 L262.1,107.4 L264.8,108.6 L267.5,109.6 L270.1,110.6 L272.8,111.5 L275.5,112.4 L278.3,113.3 L281.0,114.1 L283.7,114.9 L286.4,115.7 L289.2,116.4 L291.9,117.2 L294.6,117.9 L297.4,118.6 L300.1,119.3 L302.9,119.9 L305.6,120.6 L308.4,121.2 L311.2,121.8 L313.9,122.4 L316.7,123.0 L319.4,123.6 L322.2,124.2 L325.0,124.7 L327.8,125.3 L330.5,125.8 L333.3,126.4 L336.1,126.9 L338.9,127.4 L341.7,127.9 L344.5,128.3 L347.3,128.8 L350.1,129.2 L352.9,129.6 L355.7,130.0 L358.5,130.4 L361.3,130.8 L364.1,131.1 L366.9,131.4 L369.8,131.7 L372.6,131.9 L375.4,132.1 L378.3,132.3 L381.2,132.4 L384.0,132.4 L387.0,132.2 L390.0,131.5 L387.5,129.6 L384.9,128.4 L382.2,127.2 L379.5,126.2 L376.9,125.2 L374.2,124.3 L371.5,123.4 L368.7,122.5 L366.0,121.7 L363.3,120.9 L360.6,120.1 L357.8,119.4 L355.1,118.6 L352.4,117.9 L349.6,117.2 L346.9,116.5 L344.1,115.9 L341.4,115.2 L338.6,114.6 L335.8,114.0 L333.1,113.4 L330.3,112.8 L327.6,112.2 L324.8,111.6 L322.0,111.1 L319.2,110.5 L316.5,110.0 L313.7,109.4 L310.9,108.9 L308.1,108.4 L305.3,107.9 L302.5,107.5 L299.7,107.0 L296.9,106.6 L294.1,106.2 L291.3,105.8 L288.5,105.4 L285.7,105.0 L282.9,104.7 L280.1,104.4 L277.2,104.1 L274.4,103.9 L271.6,103.7 L268.7,103.5 L265.8,103.4 L263.0,103.4 L260.0,103.6Z" fill="none" stroke="#1d58ee" stroke-width="1.15" stroke-linejoin="round"/>
<path d="M260.0,105.2 L262.4,106.8 L265.0,107.9 L267.5,108.9 L270.1,109.8 L272.7,110.7 L275.2,111.5 L277.8,112.3 L280.4,113.1 L283.0,113.8 L285.6,114.6 L288.3,115.3 L290.9,115.9 L293.5,116.6 L296.1,117.3 L298.7,117.9 L301.4,118.5 L304.0,119.1 L306.6,119.7 L309.3,120.3 L311.9,120.9 L314.5,121.5 L317.2,122.0 L319.8,122.6 L322.5,123.1 L325.1,123.6 L327.8,124.2 L330.4,124.7 L333.1,125.2 L335.7,125.7 L338.4,126.1 L341.0,126.6 L343.7,127.1 L346.4,127.5 L349.0,127.9 L351.7,128.3 L354.4,128.7 L357.1,129.1 L359.7,129.5 L362.4,129.8 L365.1,130.2 L367.8,130.4 L370.5,130.7 L373.2,131.0 L375.9,131.1 L378.6,131.3 L381.4,131.4 L384.1,131.3 L387.0,130.8 L384.6,129.2 L382.0,128.1 L379.5,127.1 L376.9,126.2 L374.3,125.3 L371.8,124.5 L369.2,123.7 L366.6,122.9 L364.0,122.2 L361.4,121.4 L358.7,120.7 L356.1,120.1 L353.5,119.4 L350.9,118.7 L348.3,118.1 L345.6,117.5 L343.0,116.9 L340.4,116.3 L337.7,115.7 L335.1,115.1 L332.5,114.5 L329.8,114.0 L327.2,113.4 L324.5,112.9 L321.9,112.4 L319.2,111.8 L316.6,111.3 L313.9,110.8 L311.3,110.3 L308.6,109.9 L306.0,109.4 L303.3,108.9 L300.6,108.5 L298.0,108.1 L295.3,107.7 L292.6,107.3 L289.9,106.9 L287.3,106.5 L284.6,106.2 L281.9,105.8 L279.2,105.6 L276.5,105.3 L273.8,105.0 L271.1,104.9 L268.4,104.7 L265.6,104.6 L262.9,104.7Z" fill="none" stroke="#1d58ee" stroke-width="0.9" stroke-linejoin="round"/>
<path d="M245.6,121.9 L247.9,123.4 L250.4,124.5 L252.8,125.6 L255.3,126.6 L257.7,127.5 L260.2,128.4 L262.7,129.3 L265.2,130.2 L267.7,131.0 L270.2,131.8 L272.7,132.6 L275.3,133.4 L277.8,134.1 L280.3,134.8 L282.8,135.6 L285.4,136.3 L287.9,137.0 L290.5,137.6 L293.0,138.3 L295.6,139.0 L298.1,139.6 L300.7,140.2 L303.2,140.9 L305.8,141.5 L308.3,142.1 L310.9,142.7 L313.5,143.3 L316.0,143.9 L318.6,144.4 L321.2,145.0 L323.7,145.5 L326.3,146.1 L328.9,146.6 L331.5,147.2 L334.1,147.7 L336.6,148.2 L339.2,148.7 L341.8,149.2 L344.4,149.7 L347.0,150.2 L349.6,150.7 L352.2,151.2 L354.8,151.7 L357.4,152.1 L360.0,152.5 L362.6,152.9 L365.2,153.3 L367.9,153.5 L365.5,152.4 L363.0,151.4 L360.5,150.5 L358.0,149.6 L355.5,148.8 L353.0,147.9 L350.5,147.1 L348.0,146.2 L345.5,145.4 L343.0,144.6 L340.5,143.8 L338.0,143.0 L335.5,142.2 L333.0,141.4 L330.5,140.6 L327.9,139.8 L325.4,139.1 L322.9,138.3 L320.4,137.6 L317.9,136.8 L315.3,136.1 L312.8,135.4 L310.3,134.6 L307.7,133.9 L305.2,133.2 L302.6,132.5 L300.1,131.9 L297.6,131.2 L295.0,130.5 L292.5,129.9 L289.9,129.2 L287.4,128.6 L284.8,128.0 L282.2,127.4 L279.7,126.8 L277.1,126.2 L274.5,125.7 L271.9,125.2 L269.4,124.7 L266.8,124.2 L264.2,123.7 L261.6,123.3 L258.9,122.8 L256.3,122.5 L253.7,122.1 L251.0,121.9 L248.4,121.7Z" fill="none" stroke="#aa28f0" stroke-width="1.15" stroke-linejoin="round"/>
<path d="M248.0,122.8 L250.3,124.0 L252.6,124.9 L255.0,125.8 L257.3,126.7 L259.7,127.5 L262.1,128.3 L264.4,129.0 L266.8,129.8 L269.2,130.5 L271.6,131.2 L274.0,131.9 L276.4,132.6 L278.8,133.3 L281.2,134.0 L283.6,134.6 L286.0,135.3 L288.4,135.9 L290.8,136.6 L293.3,137.2 L295.7,137.8 L298.1,138.4 L300.5,139.0 L302.9,139.6 L305.4,140.2 L307.8,140.8 L310.2,141.4 L312.6,142.0 L315.1,142.5 L317.5,143.1 L319.9,143.7 L322.4,144.2 L324.8,144.8 L327.2,145.3 L329.7,145.8 L332.1,146.4 L334.6,146.9 L337.0,147.4 L339.4,147.9 L341.9,148.5 L344.3,149.0 L346.8,149.5 L349.2,150.0 L351.7,150.5 L354.1,150.9 L356.6,151.4 L359.0,151.9 L361.5,152.3 L364.0,152.6 L361.7,151.7 L359.3,150.9 L356.9,150.1 L354.5,149.3 L352.2,148.5 L349.8,147.8 L347.4,147.0 L345.0,146.3 L342.6,145.6 L340.2,144.8 L337.8,144.1 L335.4,143.4 L333.1,142.7 L330.7,142.0 L328.3,141.3 L325.9,140.6 L323.5,139.9 L321.1,139.2 L318.7,138.5 L316.3,137.8 L313.9,137.2 L311.5,136.5 L309.1,135.8 L306.6,135.2 L304.2,134.5 L301.8,133.9 L299.4,133.3 L297.0,132.6 L294.6,132.0 L292.2,131.4 L289.7,130.8 L287.3,130.2 L284.9,129.6 L282.5,129.0 L280.0,128.4 L277.6,127.9 L275.2,127.3 L272.7,126.8 L270.3,126.3 L267.8,125.8 L265.4,125.3 L262.9,124.8 L260.5,124.3 L258.0,123.9 L255.5,123.5 L253.1,123.2 L250.6,122.9Z" fill="none" stroke="#aa28f0" stroke-width="0.9" stroke-linejoin="round"/>
<path d="M391.0,56.8 C389.0,59.4 383.3,67.4 379.0,72.3 C374.7,77.2 369.7,82.8 365.0,86.4 C360.3,90.0 357.8,90.9 350.8,94.0 C343.8,97.1 330.0,102.3 323.0,105.0 C316.0,107.7 313.7,107.6 309.0,110.0 C304.3,112.4 299.9,116.6 295.0,119.6 C290.1,122.6 282.3,126.4 279.8,127.8" fill="none" stroke="#222" stroke-width="1.15" stroke-dasharray="0.05 1.8" stroke-linecap="round"/>
<path d="M288.5,67.2 C288.2,68.3 286.2,71.3 287.0,74.0 C287.8,76.7 289.9,79.6 293.2,83.4 C296.5,87.2 302.1,93.5 307.0,97.0 C311.9,100.5 318.7,101.5 322.9,104.5 C327.1,107.5 329.9,111.2 332.2,114.9 C334.5,118.6 336.3,122.8 336.9,126.6 C337.5,130.4 336.8,134.7 336.0,138.0 C335.2,141.3 332.6,145.2 331.9,146.7" fill="none" stroke="#000" stroke-width="1.3" stroke-linecap="round"/>
<line x1="391.0" y1="56.7" x2="293.0" y2="66.7" stroke="#000" stroke-width="2.0"/>
<path d="M288.5,67.2 L293.7,64.5 L294.2,68.8 Z" fill="#000"/>
<line x1="379.0" y1="72.3" x2="297.7" y2="82.8" stroke="#000" stroke-width="2.0"/>
<path d="M293.2,83.4 L298.4,80.5 L298.9,84.9 Z" fill="#000"/>
<line x1="350.8" y1="93.5" x2="327.1" y2="102.8" stroke="#000" stroke-width="2.0"/>
<path d="M322.9,104.5 L327.2,100.4 L328.8,104.5 Z" fill="#000"/>
<line x1="308.9" y1="109.8" x2="333.0" y2="124.3" stroke="#000" stroke-width="2.0"/>
<path d="M336.9,126.6 L331.1,125.7 L333.3,121.9 Z" fill="#000"/>
<line x1="279.8" y1="127.8" x2="327.7" y2="145.2" stroke="#000" stroke-width="2.0"/>
<path d="M331.9,146.7 L326.0,146.9 L327.5,142.8 Z" fill="#000"/>
<path d="M495.0,66.8 C494.9,65.5 497.8,64.6 500.0,63.2 C502.2,61.8 504.1,59.8 508.0,58.2 C511.9,56.7 517.3,55.1 523.5,53.9 C529.7,52.8 537.2,51.3 545.2,51.3 C553.2,51.3 564.0,52.5 571.3,53.7 C578.5,54.9 583.6,57.5 588.7,58.7 C593.8,59.9 601.0,60.5 601.7,60.7 C602.4,60.9 597.0,59.4 593.0,59.8 C589.0,60.2 584.0,61.4 577.8,63.3 C571.6,65.2 563.2,69.3 556.0,71.3 C548.8,73.3 542.0,75.0 534.3,75.5 C526.6,76.0 515.6,75.1 510.0,74.3 C504.4,73.5 503.0,72.1 500.5,70.8 C498.0,69.5 495.0,68.0 495.0,66.8Z" fill="none" stroke="#e31414" stroke-width="0.85"/>
<path d="M497.0,67.8 C496.9,66.0 498.2,63.4 500.0,61.5 C501.8,59.6 504.1,58.0 508.0,56.5 C511.9,55.0 517.3,53.4 523.5,52.2 C529.7,51.1 537.2,49.6 545.2,49.6 C553.2,49.6 564.0,50.8 571.3,52.0 C578.5,53.2 583.6,55.5 588.7,57.0 C593.8,58.5 601.0,60.0 601.7,60.7 C602.4,61.5 597.0,60.8 593.0,61.5 C589.0,62.2 584.0,63.1 577.8,65.0 C571.6,66.9 563.2,71.0 556.0,73.0 C548.8,75.0 542.0,76.7 534.3,77.2 C526.6,77.7 515.6,76.8 510.0,76.0 C504.4,75.2 502.7,73.9 500.5,72.5 C498.3,71.1 497.1,69.6 497.0,67.8Z" fill="none" stroke="#e31414" stroke-width="0.85"/>
<path d="M499.0,68.8 C499.0,66.4 498.5,62.1 500.0,59.8 C501.5,57.5 504.1,56.3 508.0,54.8 C511.9,53.2 517.3,51.6 523.5,50.5 C529.7,49.4 537.2,47.9 545.2,47.9 C553.2,47.9 564.0,49.1 571.3,50.3 C578.5,51.5 583.6,53.6 588.7,55.3 C593.8,57.0 601.0,59.4 601.7,60.7 C602.4,62.0 597.0,62.2 593.0,63.2 C589.0,64.2 584.0,64.8 577.8,66.7 C571.6,68.6 563.2,72.7 556.0,74.7 C548.8,76.7 542.0,78.4 534.3,78.9 C526.6,79.4 515.6,78.5 510.0,77.7 C504.4,76.9 502.3,75.7 500.5,74.2 C498.7,72.7 499.1,71.2 499.0,68.8Z" fill="none" stroke="#e31414" stroke-width="0.85"/>
<path d="M486.7,73.0 C486.8,71.7 490.2,72.1 492.0,71.7 C493.8,71.3 492.1,71.0 497.4,70.5 C502.6,70.0 513.7,68.3 523.5,68.4 C533.3,68.5 547.0,70.1 556.0,71.2 C565.0,72.3 570.5,73.9 577.8,74.9 C585.1,75.9 594.7,76.9 599.6,77.2 C604.5,77.5 606.9,76.7 607.2,76.5 C607.6,76.3 604.8,75.4 601.7,75.8 C598.6,76.2 594.5,77.3 588.7,79.1 C582.9,80.8 576.1,84.8 567.0,86.3 C557.9,87.8 545.2,88.6 534.3,88.3 C523.4,88.0 508.9,85.8 501.7,84.3 C494.5,82.8 493.5,81.2 491.0,79.3 C488.5,77.4 486.5,74.2 486.7,73.0Z" fill="none" stroke="#dcec1c" stroke-width="0.85"/>
<path d="M488.7,74.0 C488.9,72.2 490.6,70.9 492.0,70.0 C493.4,69.1 492.1,69.3 497.4,68.8 C502.6,68.2 513.7,66.6 523.5,66.7 C533.3,66.8 547.0,68.4 556.0,69.5 C565.0,70.6 570.5,72.2 577.8,73.2 C585.1,74.2 594.7,75.0 599.6,75.5 C604.5,76.0 606.9,76.2 607.2,76.5 C607.6,76.8 604.8,76.8 601.7,77.5 C598.6,78.2 594.5,79.0 588.7,80.8 C582.9,82.5 576.1,86.5 567.0,88.0 C557.9,89.5 545.2,90.3 534.3,90.0 C523.4,89.7 508.9,87.5 501.7,86.0 C494.5,84.5 493.2,83.0 491.0,81.0 C488.8,79.0 488.5,75.8 488.7,74.0Z" fill="none" stroke="#dcec1c" stroke-width="0.85"/>
<path d="M490.7,75.0 C490.9,72.6 490.9,69.6 492.0,68.3 C493.1,67.0 492.1,67.6 497.4,67.1 C502.6,66.5 513.7,64.9 523.5,65.0 C533.3,65.1 547.0,66.7 556.0,67.8 C565.0,68.9 570.5,70.5 577.8,71.5 C585.1,72.5 594.7,73.0 599.6,73.8 C604.5,74.6 606.9,75.6 607.2,76.5 C607.6,77.4 604.8,78.2 601.7,79.2 C598.6,80.2 594.5,80.8 588.7,82.5 C582.9,84.2 576.1,88.2 567.0,89.7 C557.9,91.2 545.2,92.0 534.3,91.7 C523.4,91.4 508.9,89.2 501.7,87.7 C494.5,86.2 492.8,84.8 491.0,82.7 C489.2,80.6 490.6,77.4 490.7,75.0Z" fill="none" stroke="#dcec1c" stroke-width="0.85"/>
<path d="M483.6,91.9 C484.0,91.2 488.2,90.8 492.0,90.3 C495.8,89.8 497.4,88.9 506.2,88.9 C515.0,88.9 531.9,88.8 544.7,90.1 C557.5,91.4 573.4,94.5 583.1,96.5 C592.8,98.5 598.1,100.6 603.0,102.3 C607.9,104.0 612.3,106.0 612.6,106.8 C612.9,107.6 607.8,106.8 605.0,107.2 C602.2,107.6 603.8,109.6 595.9,109.3 C588.0,109.0 572.5,107.4 557.5,105.5 C542.5,103.6 517.5,99.6 506.2,97.8 C494.9,96.0 493.8,95.7 490.0,94.7 C486.2,93.7 483.3,92.7 483.6,91.9Z" fill="none" stroke="#78e650" stroke-width="0.85"/>
<path d="M485.2,92.7 C485.5,91.5 488.5,89.8 492.0,89.0 C495.5,88.2 497.4,87.6 506.2,87.6 C515.0,87.6 531.9,87.5 544.7,88.8 C557.5,90.1 573.4,93.2 583.1,95.2 C592.8,97.2 598.1,99.1 603.0,101.0 C607.9,102.9 612.3,105.5 612.6,106.8 C612.9,108.0 607.8,107.9 605.0,108.5 C602.2,109.1 603.8,110.9 595.9,110.6 C588.0,110.3 572.5,108.7 557.5,106.8 C542.5,104.9 517.5,100.9 506.2,99.1 C494.9,97.3 493.5,97.1 490.0,96.0 C486.5,94.9 484.9,93.9 485.2,92.7Z" fill="none" stroke="#78e650" stroke-width="0.85"/>
<path d="M486.8,93.5 C487.1,91.9 488.8,88.9 492.0,87.7 C495.2,86.5 497.4,86.3 506.2,86.3 C515.0,86.3 531.9,86.2 544.7,87.5 C557.5,88.8 573.4,91.9 583.1,93.9 C592.8,95.9 598.1,97.6 603.0,99.7 C607.9,101.8 612.3,105.1 612.6,106.8 C612.9,108.5 607.8,109.0 605.0,109.8 C602.2,110.6 603.8,112.2 595.9,111.9 C588.0,111.6 572.5,110.0 557.5,108.1 C542.5,106.2 517.5,102.2 506.2,100.4 C494.9,98.6 493.2,98.5 490.0,97.3 C486.8,96.1 486.4,95.1 486.8,93.5Z" fill="none" stroke="#78e650" stroke-width="0.85"/>
<path d="M467.7,102.7 C470.9,102.7 482.7,103.9 493.4,105.4 C504.1,106.9 519.1,109.0 531.9,111.8 C544.7,114.6 560.6,119.4 570.3,122.1 C580.0,124.8 584.7,126.7 590.0,128.2 C595.3,129.7 601.3,130.7 602.3,131.1 C603.3,131.5 603.4,131.4 595.9,130.6 C588.4,129.8 570.3,128.3 557.5,126.3 C544.7,124.3 531.1,121.6 519.0,118.8 C506.9,116.0 492.3,111.5 484.8,109.3 C477.3,107.0 476.9,106.4 474.0,105.3 C471.1,104.2 464.4,102.7 467.7,102.7Z" fill="none" stroke="#1d58ee" stroke-width="0.85"/>
<path d="M469.1,103.4 C472.3,103.0 482.9,103.0 493.4,104.2 C503.9,105.4 519.1,107.8 531.9,110.6 C544.7,113.4 560.6,118.2 570.3,120.9 C580.0,123.6 584.7,125.3 590.0,127.0 C595.3,128.7 601.3,130.3 602.3,131.1 C603.3,131.9 603.4,132.4 595.9,131.8 C588.4,131.2 570.3,129.5 557.5,127.5 C544.7,125.5 531.1,122.8 519.0,120.0 C506.9,117.2 492.3,112.8 484.8,110.5 C477.3,108.2 476.6,107.7 474.0,106.5 C471.4,105.3 465.9,103.8 469.1,103.4Z" fill="none" stroke="#1d58ee" stroke-width="0.85"/>
<path d="M470.5,104.1 C473.8,103.3 483.2,102.1 493.4,103.0 C503.6,103.9 519.1,106.6 531.9,109.4 C544.7,112.2 560.6,117.0 570.3,119.7 C580.0,122.4 584.7,123.9 590.0,125.8 C595.3,127.7 601.3,129.9 602.3,131.1 C603.3,132.3 603.4,133.4 595.9,133.0 C588.4,132.6 570.3,130.7 557.5,128.7 C544.7,126.7 531.1,124.0 519.0,121.2 C506.9,118.4 492.3,114.0 484.8,111.7 C477.3,109.5 476.4,109.0 474.0,107.7 C471.6,106.4 467.3,104.9 470.5,104.1Z" fill="none" stroke="#1d58ee" stroke-width="0.85"/>
<path d="M458.9,119.4 C461.8,119.4 472.2,121.2 479.8,122.8 C487.4,124.3 495.6,126.6 504.7,128.9 C513.8,131.3 525.7,134.3 534.5,137.0 C543.3,139.8 550.5,143.2 557.5,145.5 C564.5,147.9 576.3,150.5 576.7,151.1 C577.1,151.7 567.0,150.6 560.0,149.2 C553.0,147.7 542.7,144.5 534.5,142.6 C526.3,140.6 517.9,139.2 510.9,137.7 C503.9,136.1 498.5,134.9 492.3,133.2 C486.1,131.6 478.7,129.5 473.6,127.7 C468.6,125.9 464.5,123.8 462.0,122.5 C459.5,121.1 455.9,119.3 458.9,119.4Z" fill="none" stroke="#aa28f0" stroke-width="1.0"/>
<path d="M459.7,119.8 C462.7,119.6 472.3,120.6 479.8,122.1 C487.3,123.5 495.6,125.9 504.7,128.2 C513.8,130.6 525.7,133.6 534.5,136.3 C543.3,139.1 550.5,142.4 557.5,144.8 C564.5,147.3 576.3,150.3 576.7,151.1 C577.1,151.9 567.0,151.2 560.0,149.8 C553.0,148.5 542.7,145.2 534.5,143.2 C526.3,141.3 517.9,139.9 510.9,138.3 C503.9,136.8 498.5,135.6 492.3,133.9 C486.1,132.3 478.7,130.2 473.6,128.3 C468.6,126.5 464.3,124.6 462.0,123.1 C459.7,121.7 456.8,120.0 459.7,119.8Z" fill="none" stroke="#aa28f0" stroke-width="1.0"/>
<path d="M512.3,132.3 C514.7,130.3 522.0,124.2 526.8,120.2 C531.6,116.2 537.5,111.5 541.3,108.1 C545.1,104.7 548.0,102.4 549.8,99.6 C551.6,96.8 552.0,94.5 552.2,91.1 C552.4,87.7 552.2,81.8 551.0,79.0 C549.8,76.2 545.9,75.0 544.9,74.2" fill="none" stroke="#222" stroke-width="1.15" stroke-dasharray="0.05 1.8" stroke-linecap="round"/>
<path d="M520.7,136.6 C522.9,134.7 530.2,128.9 534.0,125.0 C537.8,121.0 541.5,116.7 543.7,112.9 C545.9,109.1 546.5,105.6 547.3,102.0 C548.1,98.4 548.8,94.5 548.6,91.1 C548.4,87.7 546.9,84.3 546.1,81.5 C545.3,78.7 543.5,77.0 543.7,74.2 C543.9,71.4 545.9,67.1 547.3,64.5 C548.7,61.9 550.8,59.7 552.2,58.5 C553.6,57.3 555.2,57.5 555.8,57.3" fill="none" stroke="#000" stroke-width="1.3" stroke-linecap="round"/>
<line x1="512.3" y1="132.3" x2="517.6" y2="135.0" stroke="#000" stroke-width="2.0"/>
<path d="M520.7,136.6 L515.7,136.5 L517.7,132.6 Z" fill="#000"/>
<line x1="531.6" y1="114.8" x2="537.6" y2="116.3" stroke="#000" stroke-width="2.0"/>
<path d="M540.5,117.0 L536.1,118.2 L537.1,113.9 Z" fill="#000"/>
<line x1="553.0" y1="98.0" x2="550.5" y2="100.0" stroke="#000" stroke-width="1.5"/>
<path d="M548.5,101.5 L549.9,97.6 L552.6,101.1 Z" fill="#000"/>
<line x1="543.7" y1="74.2" x2="553.5" y2="60.6" stroke="#000" stroke-width="1.6"/>
<path d="M555.8,57.3 L555.0,62.9 L550.8,59.9 Z" fill="#000"/>
<line x1="545" y1="74.5" x2="551.5" y2="86.5" stroke="#000" stroke-width="1.8"/>
<path d="M127.2,239.3 C126.2,240.4 123.2,243.7 121.0,246.0 C118.8,248.3 117.2,250.6 113.9,253.3 C110.6,256.0 104.8,259.1 101.0,262.0 C97.2,264.9 94.4,267.7 91.2,270.7 C88.0,273.7 84.3,276.7 82.0,280.0 C79.7,283.3 78.1,287.0 77.2,290.7 C76.3,294.4 76.1,298.2 76.5,302.0 C76.9,305.8 79.1,311.5 79.6,313.4" fill="none" stroke="#222" stroke-width="1.15" stroke-dasharray="0.05 1.8" stroke-linecap="round"/>
<path d="M127.2,239.3 C129.9,239.9 137.8,241.5 143.6,242.8 C149.4,244.1 156.5,245.2 162.0,247.0 C167.5,248.8 173.5,250.8 176.8,253.3 C180.1,255.8 180.9,258.7 182.0,262.0 C183.1,265.3 183.3,269.7 183.1,273.2 C182.9,276.7 182.1,280.1 181.0,283.0 C179.9,285.9 178.7,288.4 176.8,290.7 C174.9,293.0 174.3,293.9 169.8,296.6 C165.3,299.3 157.1,303.3 150.0,307.0 C142.9,310.7 131.0,316.7 127.2,318.6" fill="none" stroke="#000" stroke-width="1.3" stroke-linecap="round"/>
<line x1="127.2" y1="239.3" x2="140.2" y2="242.1" stroke="#000" stroke-width="2.0"/>
<path d="M143.6,242.8 L138.7,244.0 L139.7,239.7 Z" fill="#000"/>
<line x1="113.9" y1="253.3" x2="172.3" y2="253.3" stroke="#000" stroke-width="2.0"/>
<path d="M176.8,253.3 L171.3,255.5 L171.3,251.1 Z" fill="#000"/>
<line x1="91.2" y1="270.7" x2="178.0" y2="273.1" stroke="#000" stroke-width="2.0"/>
<path d="M182.5,273.2 L176.9,275.2 L177.1,270.9 Z" fill="#000"/>
<line x1="77.2" y1="290.7" x2="165.3" y2="296.3" stroke="#000" stroke-width="2.0"/>
<path d="M169.8,296.6 L164.2,298.4 L164.5,294.1 Z" fill="#000"/>
<line x1="79.6" y1="313.4" x2="122.7" y2="318.1" stroke="#000" stroke-width="2.0"/>
<path d="M127.2,318.6 L121.5,320.2 L122.0,315.8 Z" fill="#000"/>
<ellipse cx="336.8" cy="243.2" rx="32.7" ry="3.2" transform="rotate(-11.10 336.8 243.2)" fill="none" stroke="#e31414" stroke-width="1.2"/>
<ellipse cx="342.9" cy="256.5" rx="47.2" ry="3.8" transform="rotate(-5.10 342.9 256.5)" fill="none" stroke="#dcec1c" stroke-width="1.3"/>
<path d="M297.7,274.9 C299.1,274.2 302.7,271.9 306.0,271.0 C309.3,270.1 310.8,270.2 317.3,269.7 C323.8,269.2 335.9,267.9 345.2,267.9 C354.5,267.9 366.6,269.1 373.2,269.7 C379.8,270.3 381.6,270.8 385.0,271.5 C388.4,272.2 393.7,272.9 393.7,273.8 C393.7,274.7 388.4,276.1 385.0,277.0 C381.6,277.9 379.8,278.4 373.2,279.0 C366.6,279.6 354.5,280.9 345.2,280.9 C335.9,280.9 324.0,279.6 317.3,279.0 C310.6,278.4 308.3,278.2 305.0,277.5 C301.7,276.8 298.9,275.3 297.7,274.9" fill="none" stroke="#78e650" stroke-width="1.4"/>
<ellipse cx="340.6" cy="294.6" rx="48.7" ry="2.8" transform="rotate(6.30 340.6 294.6)" fill="none" stroke="#1d58ee" stroke-width="1.3"/>
<ellipse cx="324.8" cy="318.2" rx="40.6" ry="1.6" transform="rotate(9.22 324.8 318.2)" fill="none" stroke="#aa28f0" stroke-width="1.2"/>
<path d="M369.4,236.6 C370.8,238.1 376.6,243.4 377.8,245.5 C379.1,247.6 379.0,247.0 376.9,249.2 C374.8,251.4 368.7,255.4 365.0,258.5 C361.3,261.6 359.4,263.9 354.5,267.5 C349.6,271.1 341.2,276.2 335.9,280.0 C330.6,283.8 327.2,286.5 322.9,290.2 C318.5,293.9 314.1,298.7 309.8,302.4 C305.5,306.1 299.0,310.9 296.8,312.6" fill="none" stroke="#222" stroke-width="1.15" stroke-dasharray="0.05 1.8" stroke-linecap="round"/>
<path d="M306.1,249.2 C305.8,249.8 303.4,250.8 304.2,253.0 C305.0,255.2 307.3,259.2 310.7,262.3 C314.1,265.4 320.5,268.7 324.7,271.6 C328.9,274.6 332.2,277.4 335.9,280.0 C339.6,282.6 343.7,285.0 347.1,287.5 C350.5,290.0 354.4,292.7 356.4,294.9 C358.4,297.1 358.9,297.7 359.2,300.5 C359.5,303.3 359.2,307.8 358.3,311.7 C357.4,315.6 354.4,321.8 353.6,323.8" fill="none" stroke="#000" stroke-width="1.3" stroke-linecap="round"/>
<line x1="369.4" y1="236.6" x2="310.5" y2="248.3" stroke="#000" stroke-width="2.0"/>
<path d="M306.1,249.2 L311.1,246.0 L311.9,250.3 Z" fill="#000"/>
<line x1="377.8" y1="248.3" x2="315.1" y2="261.4" stroke="#000" stroke-width="2.0"/>
<path d="M310.7,262.3 L315.6,259.0 L316.5,263.3 Z" fill="#000"/>
<line x1="354.5" y1="267.5" x2="339.6" y2="277.5" stroke="#000" stroke-width="2.0"/>
<path d="M335.9,280.0 L339.2,275.1 L341.7,278.8 Z" fill="#000"/>
<line x1="322.9" y1="290.2" x2="354.0" y2="298.4" stroke="#000" stroke-width="2.0"/>
<path d="M358.3,299.6 L352.4,300.3 L353.5,296.1 Z" fill="#000"/>
<line x1="296.8" y1="312.6" x2="349.2" y2="322.9" stroke="#000" stroke-width="2.0"/>
<path d="M353.6,323.8 L347.8,324.9 L348.6,320.6 Z" fill="#000"/>
<path d="M516.4,257.0 C516.1,254.9 517.3,251.4 520.2,248.3 C523.1,245.2 529.6,241.0 533.8,238.6 C538.0,236.2 541.3,234.7 545.5,233.7 C549.7,232.7 555.1,232.5 559.0,232.8 C562.9,233.1 566.5,234.9 568.8,235.7 C571.1,236.5 573.3,236.9 573.0,237.5 C572.7,238.1 568.8,238.2 566.8,239.0 C564.8,239.8 563.9,240.8 561.0,242.5 C558.1,244.2 553.8,246.9 549.3,249.3 C544.8,251.7 538.3,255.1 533.8,257.0 C529.3,258.9 525.1,260.9 522.2,260.9 C519.3,260.9 516.7,259.1 516.4,257.0Z" fill="none" stroke="#e31414" stroke-width="1"/>
<path d="M518.5,256.0 C518.3,254.2 519.2,251.5 522.0,248.8 C524.8,246.1 531.0,242.1 535.0,239.8 C539.0,237.5 542.0,235.9 546.0,235.0 C550.0,234.1 555.5,233.9 559.0,234.2 C562.5,234.4 566.2,235.7 567.0,236.5 C567.8,237.3 565.3,238.2 564.0,239.0 C562.7,239.8 561.7,240.0 559.0,241.5 C556.3,243.0 552.3,245.7 548.0,248.0 C543.7,250.3 537.2,253.6 533.0,255.5 C528.8,257.4 525.4,259.2 523.0,259.3 C520.6,259.4 518.7,257.8 518.5,256.0Z" fill="none" stroke="#e31414" stroke-width="1"/>
<path d="M520.0,255.5 C520.0,254.2 521.3,251.9 524.0,249.5 C526.7,247.1 532.2,243.2 536.0,241.0 C539.8,238.8 543.5,237.3 547.0,236.5 C550.5,235.7 555.7,235.5 557.0,236.0 C558.3,236.5 556.8,237.9 555.0,239.5 C553.2,241.1 549.8,243.2 546.0,245.5 C542.2,247.8 535.7,251.5 532.0,253.5 C528.3,255.5 526.0,257.2 524.0,257.5 C522.0,257.8 520.0,256.8 520.0,255.5Z" fill="none" stroke="#e31414" stroke-width="0.9"/>
<path d="M569.0,236.5 C569.2,235.6 571.5,235.1 573.0,235.0 C574.5,234.9 576.8,235.4 578.0,236.0 C579.2,236.6 580.6,238.0 580.5,238.8 C580.4,239.6 578.9,240.8 577.5,241.0 C576.1,241.2 573.4,240.9 572.0,240.2 C570.6,239.4 568.8,237.4 569.0,236.5Z" fill="none" stroke="#e31414" stroke-width="1"/>
<path d="M507.6,252.6 C508.7,252.1 510.0,250.0 514.4,249.3 C518.8,248.6 525.7,248.3 533.8,248.3 C541.9,248.3 553.8,248.8 562.9,249.3 C572.0,249.8 582.4,251.1 588.2,251.2 C594.0,251.3 595.6,249.8 597.9,249.8 C600.2,249.8 602.8,250.6 601.8,251.2 C600.8,251.8 595.2,252.6 592.0,253.6 C588.8,254.6 587.1,255.3 582.3,257.0 C577.4,258.7 569.4,262.2 562.9,263.8 C556.4,265.4 551.6,266.9 543.5,266.7 C535.4,266.5 520.4,265.2 514.4,262.8 C508.4,260.4 508.7,254.3 507.6,252.6" fill="none" stroke="#dcec1c" stroke-width="0.9"/>
<path d="M507.6,253.1 C508.7,252.3 510.0,249.3 514.4,248.3 C518.8,247.3 525.7,247.3 533.8,247.3 C541.9,247.3 553.8,247.8 562.9,248.3 C572.0,248.8 582.4,250.0 588.2,250.2 C594.0,250.4 595.6,249.1 597.9,249.3 C600.2,249.5 602.8,250.4 601.8,251.2 C600.8,252.0 595.2,253.0 592.0,254.1 C588.8,255.2 587.1,256.2 582.3,258.0 C577.4,259.8 569.4,263.2 562.9,264.8 C556.4,266.4 551.6,267.9 543.5,267.7 C535.4,267.5 520.4,266.2 514.4,263.8 C508.4,261.4 508.7,254.9 507.6,253.1" fill="none" stroke="#dcec1c" stroke-width="0.9"/>
<path d="M507.6,253.6 C508.7,252.6 510.0,248.5 514.4,247.3 C518.8,246.1 525.7,246.3 533.8,246.3 C541.9,246.3 553.8,246.8 562.9,247.3 C572.0,247.8 582.4,248.9 588.2,249.2 C594.0,249.4 595.6,248.5 597.9,248.8 C600.2,249.1 602.8,250.2 601.8,251.2 C600.8,252.2 595.2,253.3 592.0,254.6 C588.8,255.9 587.1,257.1 582.3,259.0 C577.4,260.9 569.4,264.2 562.9,265.8 C556.4,267.4 551.6,268.9 543.5,268.7 C535.4,268.5 520.4,267.3 514.4,264.8 C508.4,262.3 508.7,255.5 507.6,253.6" fill="none" stroke="#dcec1c" stroke-width="0.9"/>
<path d="M588.0,252.0 C588.7,251.3 590.3,248.6 592.0,248.0 C593.7,247.4 596.5,247.8 598.0,248.5 C599.5,249.2 601.2,250.7 601.0,252.0 C600.8,253.3 598.7,255.8 597.0,256.5 C595.3,257.2 592.5,256.8 591.0,256.0 C589.5,255.2 588.5,252.7 588.0,252.0" fill="none" stroke="#dcec1c" stroke-width="0.9"/>
<path d="M507.6,271.6 C510.4,271.2 514.9,269.7 524.1,269.3 C533.3,268.9 551.6,269.1 562.9,269.3 C574.2,269.5 585.0,269.8 592.0,270.2 C599.0,270.6 604.7,270.0 604.7,271.6 C604.7,273.2 599.0,278.0 592.0,279.7 C585.0,281.4 574.2,282.0 562.9,281.7 C551.6,281.4 533.3,279.5 524.1,277.8 C514.9,276.1 510.4,272.6 507.6,271.6" fill="none" stroke="#78e650" stroke-width="1"/>
<path d="M507.6,271.6 C510.4,271.0 514.9,268.7 524.1,268.1 C533.3,267.5 551.6,267.9 562.9,268.1 C574.2,268.2 585.0,268.4 592.0,269.0 C599.0,269.6 604.7,269.6 604.7,271.6 C604.7,273.6 599.0,279.0 592.0,280.9 C585.0,282.8 574.2,283.2 562.9,282.9 C551.6,282.6 533.3,280.9 524.1,279.0 C514.9,277.1 510.4,272.8 507.6,271.6" fill="none" stroke="#78e650" stroke-width="1"/>
<ellipse cx="555.7" cy="294.4" rx="47.3" ry="2.6" transform="rotate(6.13 555.7 294.4)" fill="none" stroke="#1d58ee" stroke-width="1.2"/>
<ellipse cx="535.8" cy="316.2" rx="39.3" ry="2.0" transform="rotate(8.92 535.8 316.2)" fill="none" stroke="#aa28f0" stroke-width="1.2"/>
<path d="M544.2,256.3 C546.0,256.7 551.1,256.9 555.0,258.8 C558.9,260.8 565.7,265.9 567.5,268.0 C569.3,270.1 567.6,268.8 565.8,271.3 C564.0,273.8 559.5,280.1 556.7,283.0 C554.0,285.9 552.1,285.6 549.3,288.7 C546.4,291.8 542.5,297.3 539.6,301.4 C536.7,305.4 533.2,311.1 531.9,313.0" fill="none" stroke="#222" stroke-width="1.15" stroke-dasharray="0.05 1.8" stroke-linecap="round"/>
<path d="M544.2,252.5 C544.3,254.0 544.0,258.4 545.0,261.3 C546.0,264.2 548.3,267.2 550.0,269.7 C551.7,272.2 553.2,274.1 555.0,276.3 C556.8,278.5 559.3,280.9 560.8,283.0 C562.3,285.1 563.4,286.3 563.9,288.7 C564.4,291.1 565.0,294.8 563.9,297.5 C562.8,300.2 559.9,302.6 557.1,305.2 C554.4,307.8 550.0,310.9 547.4,313.0 C544.8,315.1 542.6,317.0 541.6,317.8" fill="none" stroke="#000" stroke-width="1.3" stroke-linecap="round"/>
<path d="M544.2,252.2 C544.7,250.8 545.8,246.4 547.0,244.0 C548.2,241.6 550.2,239.3 551.7,238.0 C553.2,236.7 555.1,236.6 555.8,236.3" fill="none" stroke="#000" stroke-width="1.2"/>
<line x1="544.2" y1="252.2" x2="551.5" y2="239.3" stroke="#000" stroke-width="1.6"/>
<path d="M553.5,235.8 L553.3,241.4 L548.8,238.9 Z" fill="#000"/>
<line x1="544.2" y1="252.2" x2="567.5" y2="267.2" stroke="#000" stroke-width="2"/>
<line x1="560.8" y1="278.8" x2="555.1" y2="275.3" stroke="#000" stroke-width="2.0"/>
<path d="M552.5,273.8 L557.1,274.0 L554.8,277.7 Z" fill="#000"/>
<line x1="546.4" y1="292.0" x2="560.5" y2="294.5" stroke="#000" stroke-width="2.0"/>
<path d="M563.9,295.1 L559.1,296.5 L559.9,292.1 Z" fill="#000"/>
<line x1="531.9" y1="313.0" x2="538.5" y2="316.2" stroke="#000" stroke-width="2.0"/>
<path d="M541.6,317.8 L536.6,317.8 L538.5,313.8 Z" fill="#000"/>
</svg>
</body></html>
